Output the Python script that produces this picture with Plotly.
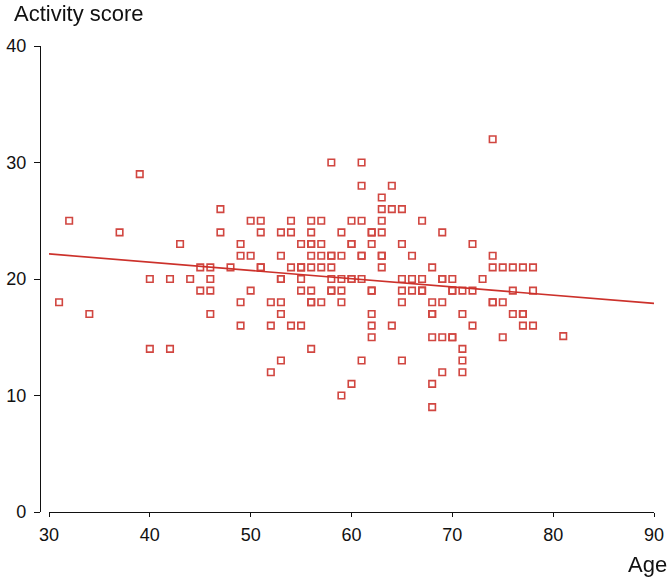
import plotly.graph_objects as go

# Data
age = [31, 32, 34, 37, 39,
       40, 40, 42, 42, 43, 44, 45, 45,
       46, 46, 46, 46, 47, 47, 48,
       49, 49, 49, 49, 50, 50, 50,
       51, 51, 51, 51, 52, 52, 52,
       53, 53, 53, 53, 53, 53, 53,
       54, 54, 54, 54,
       55, 55, 55, 55, 55, 55,
       56, 56, 56, 56, 56, 56, 56, 56, 56, 56,
       57, 57, 57, 57, 57,
       58, 58, 58, 58, 58, 58, 58,
       59, 59, 59, 59, 59, 59,
       60, 60, 60, 60, 60, 60,
       61, 61, 61, 61, 61, 61, 61,
       62, 62, 62, 62, 62, 62, 62, 62,
       63, 63, 63, 63, 63, 63, 63,
       64, 64, 64,
       65, 65, 65, 65, 65, 65,
       66, 66, 66,
       67, 67, 67, 67,
       68, 68, 68, 68, 68, 68, 68,
       69, 69, 69, 69, 69, 69,
       70, 70, 70, 70, 70,
       71, 71, 71, 71, 71,
       72, 72, 72,
       73,
       74, 74, 74, 74, 74,
       75, 75, 75,
       76, 76, 76,
       77, 77, 77, 77,
       78, 78, 78,
       81]
score = [18, 25, 17, 24, 29,
         20, 14, 20, 14, 23, 20, 21, 19,
         21, 20, 19, 17, 26, 24, 21,
         23, 22, 18, 16, 25, 22, 19,
         25, 24, 21, 21, 18, 16, 12,
         24, 22, 20, 20, 18, 17, 13,
         25, 24, 21, 16,
         23, 21, 21, 20, 19, 16,
         25, 24, 23, 23, 22, 21, 19, 18, 18, 14,
         25, 23, 22, 21, 18,
         30, 22, 22, 21, 20, 19, 19,
         24, 22, 20, 19, 18, 10,
         25, 23, 23, 20, 20, 11,
         30, 28, 25, 22, 22, 20, 13,
         24, 24, 23, 19, 19, 17, 16, 15,
         27, 26, 25, 24, 22, 22, 21,
         28, 26, 16,
         26, 23, 20, 19, 18, 13,
         22, 20, 19,
         25, 20, 19, 19,
         21, 18, 17, 17, 15, 11, 9,
         24, 20, 20, 18, 15, 12,
         20, 19, 19, 15, 15,
         19, 17, 14, 13, 12,
         23, 19, 16,
         20,
         32, 22, 21, 18, 18,
         21, 18, 15,
         21, 19, 17,
         21, 17, 17, 16,
         21, 19, 16,
         15.1]

trend_age = [30, 90]
trend_score = [22.15, 17.9]

x_ticks = [30, 40, 50, 60, 70, 80, 90]
y_ticks = [0, 10, 20, 30, 40]

RED = "#cc312b"
INK = "#111111"
FONT = "Liberation Sans, Arial, Helvetica, sans-serif"

fig = go.Figure()
fig.add_trace(go.Scatter(
    x=trend_age, y=trend_score, mode="lines",
    line=dict(color=RED, width=1.7), hoverinfo="skip", showlegend=False,
))
fig.add_trace(go.Scatter(
    x=age, y=score, mode="markers",
    marker=dict(symbol="square-open", size=6.5, color=RED,
                line=dict(color=RED, width=1.6)),
    opacity=0.9, showlegend=False,
))

L, R, T, B = 40, 16, 46, 65
W, H = 670, 577
pw = W - L - R
ph = H - T - B

fig.update_layout(
    template="none",
    width=W, height=H, autosize=False,
    margin=dict(l=L, r=R, t=T, b=B, pad=0),
    paper_bgcolor="white", plot_bgcolor="white",
    font=dict(family=FONT, size=18, color=INK),
    xaxis=dict(
        domain=[9 / pw, 1], range=[30, 90], automargin=False,
        tickvals=x_ticks, ticktext=[str(v) for v in x_ticks],
        showgrid=False, zeroline=False,
        showline=True, linecolor=INK, linewidth=1.3,
        ticks="outside", ticklen=4, tickwidth=1, tickcolor=INK,
        ticklabelstandoff=2,
        tickfont=dict(size=18, color=INK),
        anchor="y",
    ),
    yaxis=dict(
        range=[0, 40], anchor="free", position=0, automargin=False,
        tickvals=y_ticks, ticktext=[str(v) for v in y_ticks],
        showgrid=False, zeroline=False,
        showline=True, linecolor=INK, linewidth=1.2,
        ticks="outside", ticklen=6, tickwidth=1, tickcolor=INK,
        ticklabelstandoff=4,
        tickfont=dict(size=18, color=INK),
    ),
    annotations=[
        dict(text="Activity score", xref="paper", yref="paper",
             x=(12 - L) / pw, y=(T + ph - 14) / ph, xanchor="left", yanchor="middle",
             showarrow=False, font=dict(size=22, color=INK, family=FONT)),
        dict(text="Age", xref="paper", yref="paper",
             x=(669 - L) / pw, y=(T + ph - 564) / ph, xanchor="right", yanchor="middle",
             showarrow=False, font=dict(size=22, color=INK, family=FONT)),
    ],
)

fig.write_html(
    "out.html",
    config={"displayModeBar": False},
    post_script="document.body.style.margin='0';document.body.style.overflow='hidden';",
)
